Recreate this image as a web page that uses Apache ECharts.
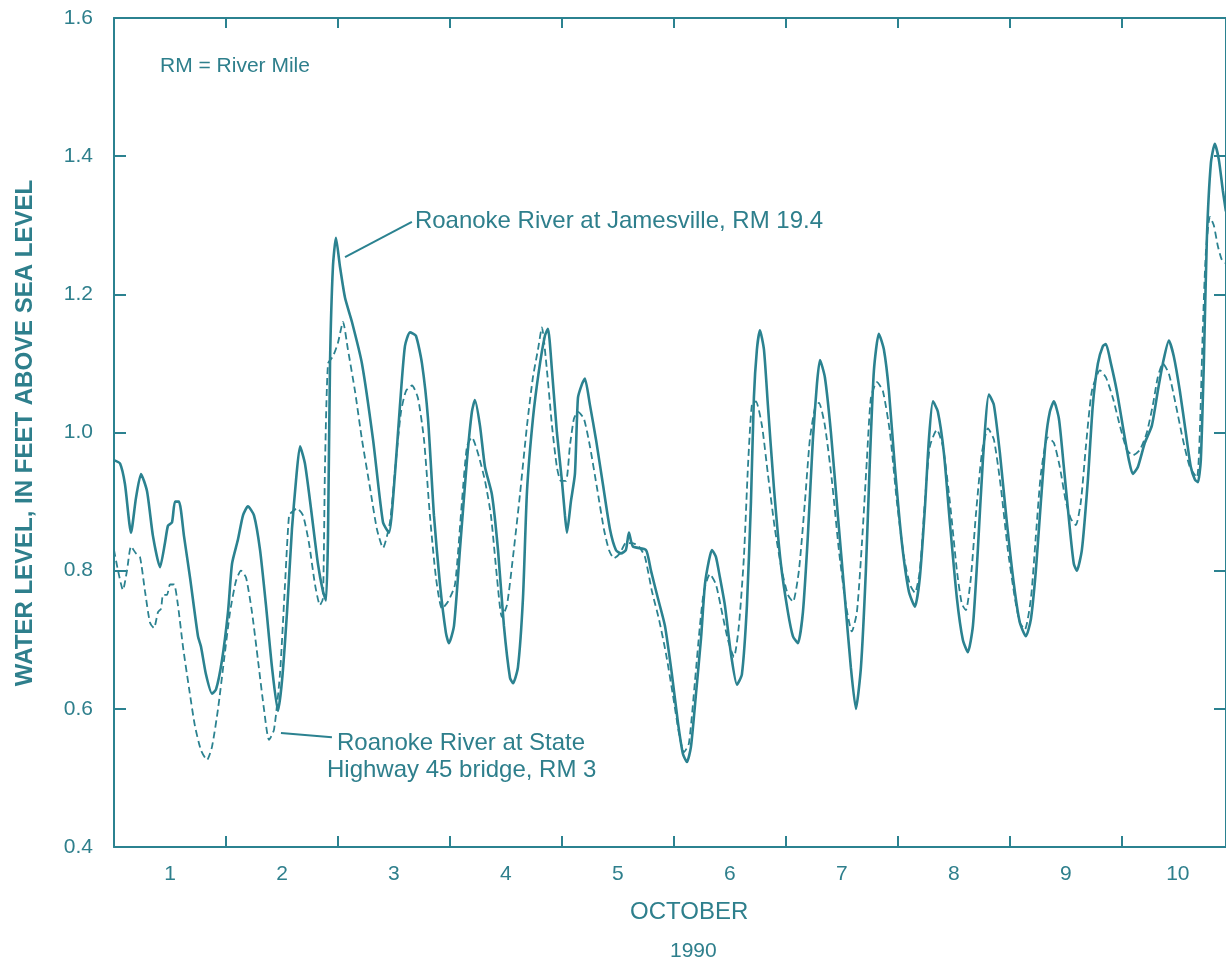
<!DOCTYPE html>
<html>
<head>
<meta charset="utf-8">
<script src="https://cdn.jsdelivr.net/npm/echarts@6/dist/echarts.min.js"></script>
<style>
html,body{margin:0;padding:0;background:#fff;}
#c{width:1226px;height:962px;}
</style>
</head>
<body>
<div id="c"></div>
<script>
// Time in days since start of October 1, 1990; water level in feet above sea level
const jamesDays = [0,0.054,0.098,0.152,0.196,0.241,0.295,0.348,0.411,0.455,0.482,0.518,0.545,0.580,0.625,0.679,0.750,0.777,0.821,0.875,0.911,0.964,1.018,1.054,1.107,1.152,1.196,1.250,1.304,1.357,1.411,1.464,1.500,1.545,1.589,1.625,1.661,1.705,1.759,1.821,1.866,1.893,1.911,1.929,1.955,1.982,2.018,2.063,2.125,2.214,2.313,2.402,2.455,2.509,2.554,2.598,2.643,2.696,2.750,2.804,2.857,2.911,2.964,2.991,3.036,3.089,3.152,3.196,3.223,3.268,3.313,3.375,3.429,3.482,3.536,3.563,3.607,3.652,3.688,3.741,3.795,3.848,3.875,3.911,3.955,4.000,4.027,4.045,4.080,4.116,4.143,4.179,4.205,4.250,4.304,4.366,4.429,4.482,4.527,4.571,4.598,4.634,4.750,4.795,4.857,4.920,4.982,5.036,5.080,5.116,5.152,5.196,5.241,5.277,5.313,5.339,5.375,5.411,5.455,5.509,5.563,5.607,5.652,5.688,5.714,5.741,5.768,5.804,5.839,5.893,5.955,6.018,6.063,6.107,6.152,6.196,6.241,6.277,6.304,6.348,6.402,6.464,6.527,6.580,6.625,6.670,6.714,6.750,6.786,6.830,6.875,6.920,6.973,7.036,7.098,7.152,7.196,7.241,7.277,7.313,7.357,7.411,7.464,7.527,7.580,7.625,7.670,7.714,7.759,7.813,7.857,7.911,7.973,8.036,8.089,8.143,8.188,8.232,8.277,8.321,8.357,8.393,8.438,8.482,8.536,8.571,8.598,8.643,8.696,8.741,8.786,8.830,8.857,8.902,8.955,9.018,9.063,9.098,9.143,9.205,9.268,9.321,9.366,9.420,9.464,9.518,9.571,9.616,9.652,9.679,9.705,9.732,9.759,9.795,9.830,9.866,9.902,9.929];
const jamesLevel = [0.960,0.955,0.925,0.855,0.905,0.940,0.915,0.850,0.805,0.840,0.865,0.870,0.900,0.900,0.850,0.790,0.705,0.690,0.650,0.622,0.628,0.670,0.740,0.810,0.845,0.880,0.893,0.880,0.830,0.750,0.660,0.597,0.640,0.740,0.860,0.930,0.980,0.955,0.890,0.810,0.770,0.757,0.850,1.100,1.240,1.282,1.240,1.195,1.160,1.100,0.990,0.870,0.855,0.940,1.040,1.125,1.145,1.140,1.100,1.020,0.880,0.780,0.710,0.695,0.720,0.830,0.960,1.030,1.047,1.010,0.950,0.910,0.830,0.720,0.645,0.637,0.660,0.760,0.915,1.020,1.090,1.140,1.150,1.090,1.000,0.930,0.880,0.855,0.900,0.940,1.050,1.070,1.078,1.040,0.990,0.925,0.860,0.830,0.825,0.830,0.855,0.835,0.830,0.800,0.760,0.720,0.650,0.580,0.535,0.523,0.545,0.620,0.700,0.780,0.815,0.830,0.820,0.790,0.750,0.680,0.635,0.650,0.750,0.900,1.050,1.120,1.148,1.120,1.040,0.920,0.810,0.740,0.705,0.695,0.740,0.850,0.990,1.070,1.105,1.080,1.000,0.880,0.760,0.660,0.600,0.660,0.800,0.960,1.090,1.143,1.120,1.060,0.950,0.840,0.770,0.748,0.790,0.890,0.990,1.045,1.030,0.970,0.870,0.760,0.700,0.682,0.720,0.830,0.960,1.055,1.040,0.970,0.870,0.780,0.725,0.705,0.730,0.800,0.900,0.990,1.030,1.045,1.020,0.950,0.860,0.810,0.800,0.830,0.930,1.040,1.100,1.125,1.128,1.100,1.060,1.000,0.960,0.940,0.950,0.985,1.010,1.060,1.100,1.133,1.110,1.060,1.000,0.950,0.932,0.928,0.960,1.100,1.280,1.390,1.418,1.395,1.350,1.320];

const bridgeDays = [0,0.036,0.080,0.116,0.152,0.196,0.232,0.277,0.321,0.357,0.393,0.420,0.438,0.473,0.500,0.536,0.571,0.616,0.670,0.723,0.777,0.830,0.875,0.929,0.982,1.036,1.089,1.134,1.179,1.232,1.286,1.339,1.384,1.429,1.482,1.527,1.563,1.589,1.634,1.688,1.741,1.795,1.839,1.866,1.884,1.911,1.955,2.000,2.045,2.089,2.152,2.214,2.286,2.348,2.402,2.464,2.518,2.563,2.607,2.661,2.714,2.768,2.821,2.875,2.929,2.982,3.045,3.107,3.152,3.196,3.250,3.313,3.366,3.420,3.464,3.509,3.563,3.625,3.688,3.741,3.786,3.821,3.866,3.911,3.955,3.991,4.036,4.071,4.107,4.143,4.196,4.250,4.313,4.375,4.420,4.464,4.518,4.571,4.625,4.688,4.741,4.804,4.866,4.929,4.991,5.045,5.089,5.134,5.188,5.232,5.268,5.321,5.375,5.429,5.482,5.536,5.580,5.625,5.661,5.696,5.732,5.786,5.839,5.902,5.964,6.018,6.063,6.116,6.170,6.214,6.259,6.295,6.348,6.411,6.473,6.536,6.589,6.634,6.679,6.723,6.759,6.813,6.866,6.929,6.991,7.054,7.107,7.152,7.196,7.241,7.286,7.348,7.402,7.464,7.527,7.571,7.607,7.652,7.696,7.750,7.804,7.857,7.920,7.982,8.045,8.089,8.134,8.188,8.232,8.277,8.339,8.393,8.446,8.500,8.545,8.589,8.634,8.679,8.732,8.804,8.857,8.920,8.982,9.045,9.098,9.161,9.223,9.277,9.321,9.366,9.420,9.482,9.545,9.607,9.670,9.696,9.723,9.750,9.786,9.821,9.857,9.893,9.929];
const bridgeLevel = [0.830,0.800,0.772,0.800,0.835,0.825,0.820,0.770,0.725,0.717,0.740,0.745,0.765,0.765,0.780,0.780,0.750,0.690,0.630,0.575,0.540,0.526,0.545,0.600,0.670,0.740,0.785,0.800,0.790,0.740,0.670,0.600,0.555,0.570,0.650,0.780,0.880,0.885,0.890,0.880,0.840,0.780,0.750,0.760,0.950,1.100,1.110,1.130,1.160,1.120,1.060,0.990,0.920,0.860,0.833,0.870,0.960,1.030,1.060,1.068,1.050,0.990,0.880,0.790,0.745,0.755,0.780,0.900,0.980,0.993,0.970,0.930,0.880,0.790,0.733,0.750,0.820,0.910,1.010,1.080,1.120,1.152,1.090,1.010,0.950,0.930,0.930,0.980,1.020,1.030,1.020,0.980,0.920,0.860,0.830,0.818,0.825,0.840,0.840,0.835,0.820,0.770,0.730,0.680,0.620,0.565,0.537,0.550,0.640,0.720,0.770,0.795,0.780,0.740,0.700,0.675,0.720,0.820,0.950,1.040,1.045,1.010,0.940,0.860,0.800,0.765,0.755,0.800,0.900,0.990,1.035,1.043,1.010,0.930,0.830,0.750,0.712,0.740,0.840,0.960,1.050,1.073,1.060,1.000,0.900,0.820,0.780,0.768,0.800,0.900,0.980,1.004,0.980,0.900,0.800,0.752,0.743,0.790,0.880,0.970,1.006,0.990,0.920,0.830,0.760,0.725,0.715,0.760,0.850,0.940,0.993,0.985,0.950,0.900,0.875,0.866,0.900,0.980,1.060,1.090,1.080,1.050,1.010,0.975,0.967,0.975,1.000,1.040,1.080,1.100,1.085,1.040,0.990,0.950,0.935,1.000,1.150,1.260,1.312,1.300,1.270,1.250,1.245];

const dayLabels = ['1','2','3','4','5','6','7','8','9','10'];
const dayBoundaries = [1,2,3,4,5,6,7,8,9];
const dayCenters = [0.5,1.5,2.5,3.5,4.5,5.5,6.5,7.5,8.5,9.5];
const yTicks = [0.4, 0.6, 0.8, 1.0, 1.2, 1.4, 1.6];

const TEAL = '#2b8290';
const TEXT = '#2e7f8c';
const FONT = '"Liberation Sans", Arial, Helvetica, sans-serif';

function pairs(xs, ys){ return xs.map((x,i)=>[x, ys[i]]); }

const chart = echarts.init(document.getElementById('c'), null, {renderer:'canvas'});
const XMAX = 9.93;
const option = {
  animation: false,
  backgroundColor: '#ffffff',
  grid: {left: 114, right: 0, top: 18, bottom: 115, containLabel: false},
  xAxis: [
    {type:'value', min:0, max:XMAX, position:'bottom',
     axisLine:{show:true, lineStyle:{color:TEAL, width:2}},
     axisTick:{show:true, inside:true, length:11, customValues: dayBoundaries, lineStyle:{color:TEAL, width:2}},
     splitLine:{show:false},
     axisLabel:{show:true, margin:17, color:TEXT, fontSize:21, fontFamily:FONT, customValues: dayCenters,
       formatter: function(v){ return dayLabels[Math.floor(v)] || ''; }}},
    {type:'value', min:0, max:XMAX, position:'top',
     axisLine:{show:true, lineStyle:{color:TEAL, width:2}}, axisLabel:{show:false}, splitLine:{show:false},
     axisTick:{show:true, inside:true, length:10, customValues: dayBoundaries, lineStyle:{color:TEAL, width:2}}}
  ],
  yAxis: [
    {type:'value', min:yTicks[0], max:yTicks[yTicks.length-1], interval:0.2, position:'left',
     axisLine:{show:true, lineStyle:{color:TEAL, width:2}},
     axisTick:{show:true, inside:true, length:12, lineStyle:{color:TEAL, width:2}},
     splitLine:{show:false},
     axisLabel:{color:TEXT, fontSize:21, fontFamily:FONT, margin:21, formatter: v => v.toFixed(1)}},
    {type:'value', min:yTicks[0], max:yTicks[yTicks.length-1], interval:0.2, position:'right',
     axisLine:{show:true, onZero:false, lineStyle:{color:TEAL, width:2}},
     axisTick:{show:true, inside:true, length:12, lineStyle:{color:TEAL, width:2}},
     splitLine:{show:false}, axisLabel:{show:false}}
  ],
  series: [
    {name:'Roanoke River at State Highway 45 bridge, RM 3', type:'line', xAxisIndex:0, yAxisIndex:0,
     data: pairs(bridgeDays, bridgeLevel), showSymbol:false, smooth:0.2, clip:true,
     lineStyle:{color:TEAL, width:1.8, type:[7,4]}, z:2},
    {name:'Roanoke River at Jamesville, RM 19.4', type:'line', xAxisIndex:0, yAxisIndex:0,
     data: pairs(jamesDays, jamesLevel), showSymbol:false, smooth:0.2, clip:true,
     lineStyle:{color:TEAL, width:2.6}, z:3}
  ]
};
chart.setOption(option);

const P = (d, v) => chart.convertToPixel({xAxisIndex:0, yAxisIndex:0}, [d, v]);
const jA = P(2.063, 1.254), jB = P(2.66, 1.305);
const sA = P(1.491, 0.565), sB = P(1.946, 0.559);

chart.setOption({
  graphic: [
    {type:'line', shape:{x1:jA[0], y1:jA[1], x2:jB[0], y2:jB[1]}, style:{stroke:TEAL, lineWidth:2}},
    {type:'text', left: jB[0]+3, top: jB[1]-12, style:{text:'Roanoke River at Jamesville, RM 19.4', fill:TEXT, font:'24px ' + FONT}},
    {type:'line', shape:{x1:sA[0], y1:sA[1], x2:sB[0], y2:sB[1]}, style:{stroke:TEAL, lineWidth:2}},
    {type:'text', left: 337, top: 731, style:{text:'Roanoke River at State', fill:TEXT, font:'24px ' + FONT}},
    {type:'text', left: 327, top: 758, style:{text:'Highway 45 bridge, RM 3', fill:TEXT, font:'24px ' + FONT}},
    {type:'text', left: 160, top: 56, style:{text:'RM = River Mile', fill:TEXT, font:'21px ' + FONT}},
    {type:'text', left: 630, top: 900, style:{text:'OCTOBER', fill:TEXT, font:'24px ' + FONT}},
    {type:'text', left: 670, top: 941, style:{text:'1990', fill:TEXT, font:'21px ' + FONT}},
    {type:'text', x: 25, y: 433, rotation: Math.PI/2, style:{text:'WATER LEVEL, IN FEET ABOVE SEA LEVEL', fill:TEXT, font:'bold 24px ' + FONT, textAlign:'center', textVerticalAlign:'middle'}}
  ]
});
</script>
</body>
</html>
